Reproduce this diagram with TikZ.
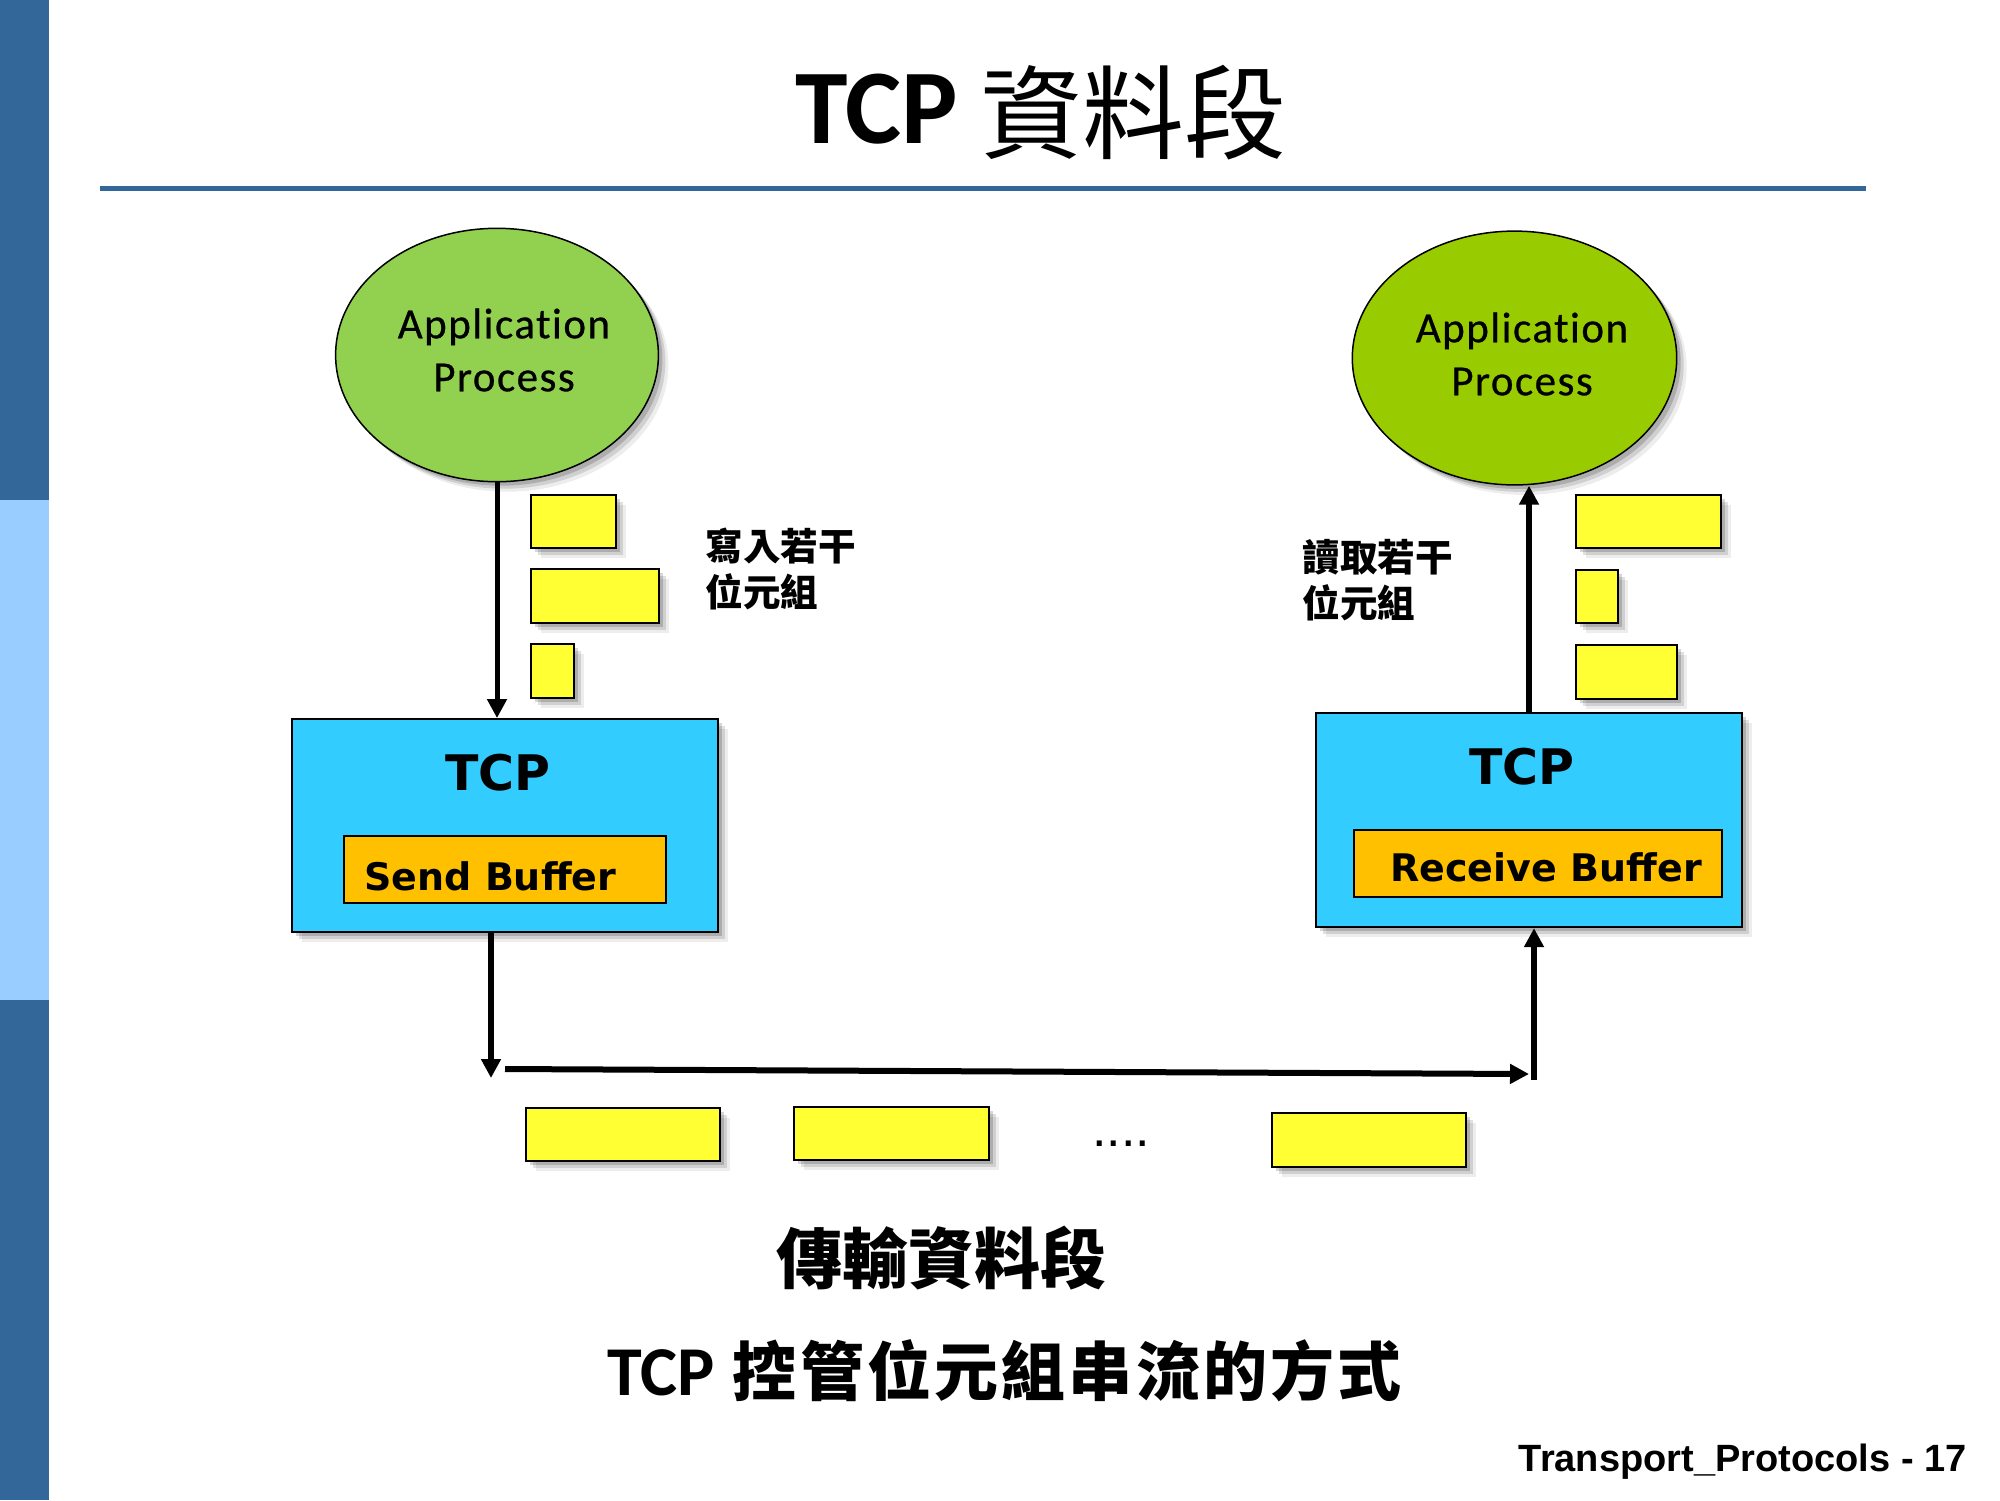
\documentclass[tikz,border=0pt]{standalone}
\usepackage{fontspec}
\setmainfont{Liberation Sans}
\newfontfamily\carl{Carlito}
\newfontfamily\appf[LetterSpace=3.5,FakeBold=0.6,Ligatures=CommonOff]{Carlito}
\newfontfamily\dvs{DejaVu Sans}
\newfontfamily\cjk{Noto Sans CJK TC}
\newfontfamily\cjksp[LetterSpace=5]{Noto Sans CJK TC}
\usetikzlibrary{shapes.geometric,arrows.meta,shadows}
\definecolor{barDark}{HTML}{336699}
\definecolor{barLight}{HTML}{99CCFF}
\definecolor{appA}{HTML}{92D050}
\definecolor{appB}{HTML}{99CC00}
\definecolor{tcpc}{HTML}{33CCFF}
\definecolor{bufc}{HTML}{FFC000}
\definecolor{segc}{HTML}{FFFF33}
\begin{document}
\begin{tikzpicture}[x=0.5pt,y=-0.5pt,
  shd/.style={drop shadow={shadow xshift=2pt,shadow yshift=-2pt,opacity=.16,fill=black},
              drop shadow={shadow xshift=3.5pt,shadow yshift=-3.5pt,opacity=.12,fill=black},
              drop shadow={shadow xshift=5pt,shadow yshift=-5pt,opacity=.07,fill=black}},
  seg/.style={draw=black,line width=1pt,fill=segc,inner sep=0pt,shd},
  appnode/.style={ellipse,draw=black,line width=0.75pt,inner sep=0pt,shd},
  apptext/.style={align=center,inner sep=0pt,font=\appf\fontsize{21.5pt}{26.5pt}\selectfont},
  tcpbox/.style={draw=black,line width=1pt,fill=tcpc,inner sep=0pt,shd},
  bufbox/.style={draw=black,line width=1pt,fill=bufc,inner sep=0pt},
  tcptext/.style={inner sep=0pt,font=\dvs\bfseries\fontsize{24.5pt}{29pt}\selectfont},
  buftext/.style={inner sep=0pt,font=\dvs\bfseries\fontsize{19pt}{23pt}\selectfont},
  cjknote/.style={align=left,inner sep=0pt,font=\cjk\bfseries\fontsize{18.8pt}{23pt}\selectfont},
  arr/.style={line width=3pt,-{Triangle[width=9.5pt,length=9.5pt]}}]
% page
\useasboundingbox (0,0) rectangle (2000,1500);
\fill[white] (0,0) rectangle (2000,1500);
% side bar
\fill[barDark] (0,0) rectangle (49,500);
\fill[barLight] (0,500) rectangle (49,1000);
\fill[barDark] (0,1000) rectangle (49,1500);
% title
\node[anchor=base west,inner sep=0pt] (title) at (795,143)
  {{\carl\bfseries\fontsize{53pt}{60pt}\selectfont TCP}\hspace{11pt}\raisebox{-4pt}{\cjk\fontsize{51pt}{58pt}\selectfont 資料段}};
\coordinate (rl) at (100,188.5);
\coordinate (rr) at (1866,188.5);
\draw[barDark,line width=2.4pt] (rl) -- (rr);
% application processes
\node[appnode,fill=appA,minimum width=161.4pt,minimum height=126.7pt] (app1) at (497,355) {};
\node[apptext] (app1t) at (504,350) {Application\\Process};
\node[appnode,fill=appB,minimum width=162.2pt,minimum height=126.9pt] (app2) at (1514.5,358) {};
\node[apptext] (app2t) at (1522,354) {Application\\Process};
% TCP boxes
\node[tcpbox,minimum width=213pt,minimum height=106.65pt] (tcp1) at (504.7,825.7) {};
\node[tcptext,anchor=base] (tcp1t) at (498,790.7) {TCP};
\node[bufbox,minimum width=160.85pt,minimum height=33.65pt] (sb) at (505.2,869.4) {};
\node[buftext,anchor=base west] (sbt) at (364,890) {Send Buffer};
\node[tcpbox,minimum width=213.3pt,minimum height=107.15pt] (tcp2) at (1529,820) {};
\node[tcptext,anchor=base] (tcp2t) at (1522,784.7) {TCP};
\node[bufbox,minimum width=183.7pt,minimum height=33.5pt] (rb) at (1538,863.5) {};
\node[buftext,anchor=base west] (rbt) at (1390,881.8) {Receive Buffer};
% byte pieces, sender side
\node[seg,minimum width=42.5pt,minimum height=26.5pt] (yl1) at (573.5,521.5) {};
\node[seg,minimum width=63.75pt,minimum height=27pt] (yl2) at (594.75,596.3) {};
\node[seg,minimum width=21.35pt,minimum height=27pt] (yl3) at (552.35,671.3) {};
\node[cjknote,anchor=north west] (wtxt) at (705,528) {寫入若干\\位元組};
% byte pieces, receiver side
\node[seg,minimum width=72.65pt,minimum height=26.3pt] (yr1) at (1648.35,521.5) {};
\node[seg,minimum width=21.3pt,minimum height=26.35pt] (yr2) at (1597,596.15) {};
\node[seg,minimum width=50.5pt,minimum height=27pt] (yr3) at (1626.2,672) {};
\node[cjknote,anchor=north west] (rtxt) at (1302,539) {讀取若干\\位元組};
% segments
\node[seg,minimum width=97.15pt,minimum height=26.5pt] (yb1) at (622.85,1134.2) {};
\node[seg,minimum width=97.5pt,minimum height=26.65pt] (yb2) at (891.5,1133.35) {};
\node[seg,minimum width=97pt,minimum height=27pt] (yb3) at (1369,1139.7) {};
\node[anchor=base west,inner sep=0pt,font=\fontsize{26pt}{30pt}\selectfont] (dots) at (1092,1146) {....};
% arrows
\draw[arr,line width=2.5pt] (app1.south) -- (app1.south |- tcp1.north);
\draw[arr] (tcp2.north) -- (tcp2.north |- app2.south);
\coordinate (d1) at (491,1078);
\draw[arr] (tcp1.south -| d1) -- (d1);
\coordinate (h1) at (505,1069);
\coordinate (h2) at (1529,1074);
\draw[arr] (h1) -- (h2);
\coordinate (u1) at (1534,1080);
\draw[arr] (u1) -- (tcp2.south -| u1);
% captions
\node[inner sep=0pt,font=\cjk\bfseries\fontsize{33pt}{40pt}\selectfont] (cap1) at (941,1258) {傳輸資料段};
\node[anchor=base west,inner sep=0pt] (cap2) at (607,1395)
  {{\carl\bfseries\fontsize{35pt}{40pt}\selectfont TCP}\hspace{9pt}{\cjksp\bfseries\fontsize{32pt}{40pt}\selectfont 控管位元組串流的方式}};
% footer
\node[anchor=base east,inner sep=0pt,font=\bfseries\fontsize{19pt}{23pt}\selectfont] (foot) at (1967,1471) {Transport\_Protocols - 17};
\end{tikzpicture}
\end{document}
